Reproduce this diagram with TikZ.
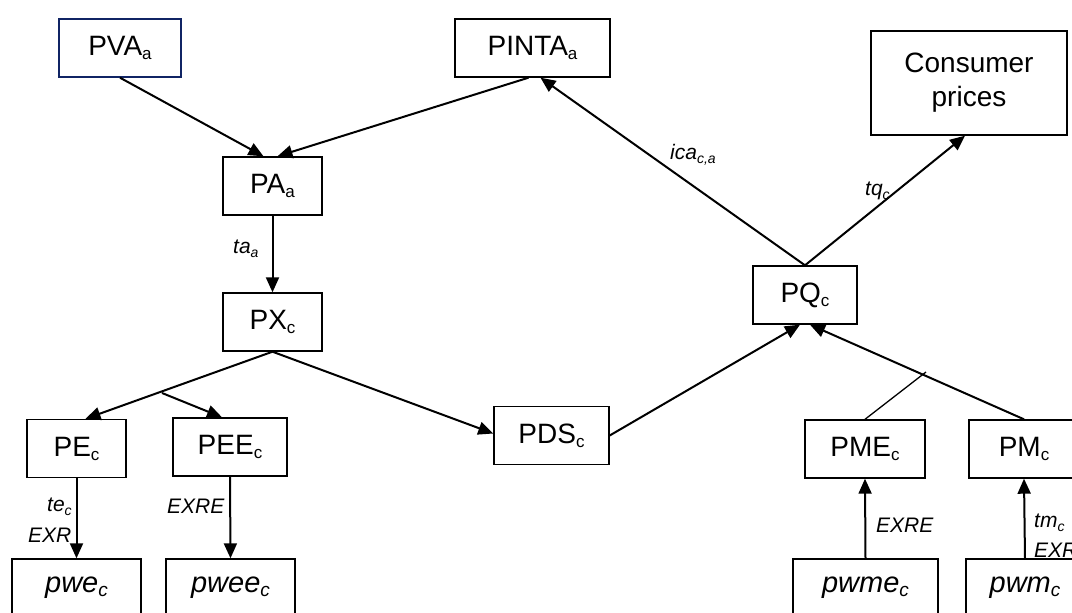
\documentclass[tikz,border=0pt]{standalone}
\usepackage{fontspec}
\setmainfont{Liberation Sans}
\usetikzlibrary{arrows.meta}
\definecolor{navy}{RGB}{16,36,100}
\newcommand{\sbs}[2][17]{\raisebox{-4pt}{\fontsize{#1}{#1}\selectfont #2}}

\begin{document}
\begin{tikzpicture}[
    x=1pt, y=-1pt,
    nodebox/.style={draw, line width=1.4pt, inner sep=0pt, minimum height=58pt,
      font=\fontsize{28}{34}\selectfont},
    worldbox/.style={nodebox, font=\fontsize{29}{34}\selectfont\itshape},
    lbl/.style={anchor=base west, inner sep=0pt, font=\fontsize{21}{24}\selectfont\itshape},
    arr/.style={line width=2pt, -{Triangle[length=15pt,width=13pt]}}
  ]
  \useasboundingbox (0,0) rectangle (1072,613);
  \clip (0,0) rectangle (1072,613);

  \node[nodebox, draw=navy, minimum width=122pt] (pva) at (120,48) {PVA\sbs{a}};
  \node[nodebox, minimum width=155pt] (pinta) at (532.5,48) {PINTA\sbs{a}};
  \node[nodebox, minimum width=196pt, minimum height=104pt, align=center] (cons) at (969,83) {Consumer\\prices};
  \node[nodebox, minimum width=99pt] (pa) at (272.5,186) {PA\sbs{a}};
  \node[nodebox, minimum width=99pt] (px) at (272.5,322) {PX\sbs{c}};
  \node[nodebox, minimum width=99pt] (pe) at (76.5,448.5) {PE\sbs{c}};
  \node[nodebox, minimum width=114pt] (pee) at (230,447) {PEE\sbs{c}};
  \node[nodebox, minimum width=115pt] (pds) at (551.5,435.5) {PDS\sbs{c}};
  \node[nodebox, minimum width=104pt] (pq) at (805,295) {PQ\sbs{c}};
  \node[nodebox, minimum width=120pt] (pme) at (865,449) {PME\sbs{c}};
  \node[nodebox, minimum width=110pt] (pm) at (1024,449) {PM\sbs{c}};
  \node[worldbox, minimum width=129pt] (pwe) at (76.5,588) {pwe\sbs[19]{c}};
  \node[worldbox, minimum width=129pt] (pwee) at (230.5,588) {pwee\sbs[19]{c}};
  \node[worldbox, minimum width=145pt] (pwme) at (865.5,588) {pwme\sbs[19]{c}};
  \node[worldbox, minimum width=118pt] (pwm) at (1025,588) {pwm\sbs[19]{c}};

  \coordinate (br) at (162,393);
  \coordinate (mj) at (926,372);

  \draw[arr] (pva.south) -- ([xshift=-9pt]pa.north);
  \draw[arr] ([xshift=-4pt]pinta.south) -- ([xshift=5pt]pa.north);
  \draw[arr] (pq.north) -- ([xshift=8pt]pinta.south);
  \draw[arr] (pq.north) -- ([xshift=-4pt]cons.south);
  \draw[arr] (pa.south) -- (px.north);
  \draw[arr] (px.south) -- ([xshift=9pt]pe.north);
  \draw[arr] (br) -- ([xshift=-8pt]pee.north);
  \draw[arr] (px.south) -- ([yshift=2pt]pds.west);
  \draw[arr] (pds.east) -- ([xshift=-5pt]pq.south);
  \draw[arr] (pm.north) -- ([xshift=5pt]pq.south);
  \draw[line width=1.3pt] (pme.north) -- (mj);
  \draw[arr] (pe.south) -- (pwe.north);
  \draw[arr] (pee.south) -- (pwee.north);
  \draw[arr] (pwme.north) -- (pme.south);
  \draw[arr] (pwm.north) -- (pm.south);

  \node[lbl] (ica) at (670,159) {ica\sbs[14]{c,a}};
  \node[lbl] (tq) at (865,195) {tq\sbs[14]{c}};
  \node[lbl] (ta) at (233,253) {ta\sbs[14]{a}};
  \node[lbl] (te) at (47,511) {te\sbs[14]{c}};
  \node[lbl] (exr) at (28,542) {EXR};
  \node[lbl] (exre) at (167,513) {EXRE};
  \node[lbl] (exrem) at (876,532) {EXRE};
  \node[lbl] (tm) at (1034,527) {tm\sbs[14]{c}};
  \node[lbl] (exrm) at (1034,557) {EXR};
\end{tikzpicture}
\end{document}
